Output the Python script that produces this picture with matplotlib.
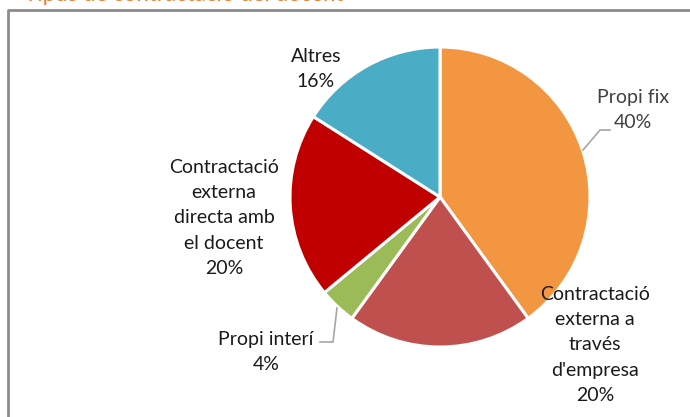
import matplotlib
matplotlib.use("Agg")
import matplotlib.pyplot as plt

labels = ["Propi fix", "Contractació\nexterna a\ntravés\nd'empresa", "Propi interí",
          "Contractació\nexterna\ndirecta amb\nel docent", "Altres"]
values = [40, 20, 4, 20, 16]
colors = ["#F39642", "#C0504D", "#9BBB59", "#C00000", "#4BACC6"]
title = "Tipus de contractació del docent"

W, H = 690, 417
CX, CY, R = 440, 197, 150

def px(x, y):
    return ((x - CX) / R, (CY - y) / R)

plt.rcParams['font.family'] = ['Lato', 'DejaVu Sans']
fig = plt.figure(figsize=(W / 100, H / 100), dpi=100)
ax = fig.add_axes([0, 0, 1, 1])

ax.pie(values, colors=colors, startangle=90, counterclock=False, radius=1,
       wedgeprops=dict(edgecolor='white', linewidth=2.2))
ax.set_aspect('auto')
ax.set_xlim(-CX / R, (W - CX) / R)
ax.set_ylim((CY - H) / R, CY / R)
ax.axis('off')

# frame
x0, y0 = px(8, 10)
x1, y1 = px(700, 430)
ax.plot([x1, x0, x0], [y0, y0, y1], color='#8c8c8c', lw=2, clip_on=False)

# cut-off title (only its lower edge is visible in the reference)
tx, ty = px(24, 1)
ax.text(tx, ty, title, color='#ED7D31', fontsize=16, ha='left', va='baseline')

fs = 14
ls = 1.6
pos = [(633, 110), (595, 345), (266, 352), (224, 218), (316, 69)]
tcol = ['#404040', '#1a1a1a', '#1a1a1a', '#1a1a1a', '#1a1a1a']
for lab, v, (x, y), c in zip(labels, values, pos, tcol):
    dx, dy = px(x, y)
    ax.text(dx, dy, f"{lab}\n{v}%", ha='center', va='center', fontsize=fs,
            color=c, linespacing=ls)

# leader lines
l1 = [px(583, 150), px(600, 130), px(610, 130)]
ax.plot([p[0] for p in l1], [p[1] for p in l1], color='#a6a6a6', lw=1.2)
l2 = [px(337, 308), px(333, 342), px(320, 342)]
ax.plot([p[0] for p in l2], [p[1] for p in l2], color='#a6a6a6', lw=1.2)

fig.savefig("out.png", dpi=100)
